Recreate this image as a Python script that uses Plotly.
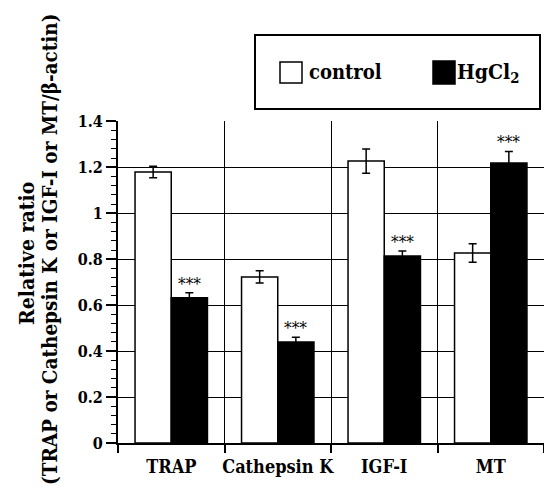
import plotly.graph_objects as go

categories = ["TRAP", "Cathepsin K", "IGF-I", "MT"]
series_names = ["control", "HgCl<sub>2</sub>"]
control_vals = [1.18, 0.723, 1.227, 0.827]
control_err = [0.025, 0.027, 0.053, 0.04]
hg_vals = [0.632, 0.44, 0.814, 1.219]
hg_err = [0.022, 0.02, 0.022, 0.05]
sig_marks = ["***", "***", "***", "***"]
y_ticks = [0, 0.2, 0.4, 0.6, 0.8, 1.0, 1.2, 1.4]

FONT = "DejaVu Serif Condensed, DejaVu Serif"
W, H = 544, 494
L, R, T, B = 118, 0, 121, 51
PW, PH = W - L - R, H - T - B


def px(x):
    return (x - L) / PW


def py(y):
    return (H - B - y) / PH


fig = go.Figure()
fig.add_trace(go.Bar(
    x=categories, y=control_vals, name=series_names[0],
    marker=dict(color="white", line=dict(color="black", width=1.5)),
    error_y=dict(type="data", array=control_err, color="black", thickness=1.5, width=4),
    showlegend=False,
))
fig.add_trace(go.Bar(
    x=categories, y=hg_vals, name=series_names[1],
    marker=dict(color="black", line=dict(color="black", width=1.5)),
    error_y=dict(type="data", array=hg_err, color="black", thickness=1.5, width=4),
    showlegend=False,
))

bargap = 0.32
offset = (1 - bargap) / 4
for i, (v, e, s) in enumerate(zip(hg_vals, hg_err, sig_marks)):
    fig.add_annotation(x=i + offset, y=v + e, xref="x", yref="y", text=s,
                       showarrow=False, yanchor="bottom", yshift=-3,
                       font=dict(family=FONT, size=17, color="black"))

fig.add_annotation(x=px(27), y=py(254), xref="paper", yref="paper",
                   text="<b>Relative ratio</b>", textangle=-90, showarrow=False,
                   xanchor="center", yanchor="middle",
                   font=dict(family=FONT, size=21, color="black"))
fig.add_annotation(x=px(50), y=py(250), xref="paper", yref="paper",
                   text="<b>(TRAP or Cathepsin K or IGF-I or MT/β-actin)</b>",
                   textangle=-90, showarrow=False,
                   xanchor="center", yanchor="middle",
                   font=dict(family=FONT, size=20.5, color="black"))

shapes = [
    dict(type="rect", xref="paper", yref="paper", x0=px(255), x1=px(540),
         y0=py(109), y1=py(35), line=dict(color="black", width=2), fillcolor="white"),
    dict(type="rect", xref="paper", yref="paper", x0=px(280), x1=px(302),
         y0=py(83), y1=py(62), line=dict(color="black", width=1.5), fillcolor="white"),
    dict(type="rect", xref="paper", yref="paper", x0=px(433), x1=px(455),
         y0=py(84), y1=py(61), line=dict(color="black", width=1.5), fillcolor="black"),
]
fig.add_annotation(x=px(307), y=py(72), xref="paper", yref="paper",
                   text="<b>" + series_names[0] + "</b>", showarrow=False,
                   xanchor="left", yanchor="middle",
                   font=dict(family=FONT, size=20, color="black"))
fig.add_annotation(x=px(455), y=py(72), xref="paper", yref="paper",
                   text="<b>" + series_names[1] + "</b>", showarrow=False,
                   xanchor="left", yanchor="middle",
                   font=dict(family=FONT, size=21, color="black"))

fig.update_layout(
    width=W, height=H,
    margin=dict(l=L, r=R, t=T, b=B, pad=0),
    paper_bgcolor="white", plot_bgcolor="white",
    barmode="group", bargap=bargap, bargroupgap=0,
    shapes=shapes,
    xaxis=dict(
        type="category", range=[-0.5, 3.5], tickson="boundaries",
        ticks="outside", ticklen=8, tickwidth=1.5, tickcolor="black",
        showgrid=True, gridcolor="black", gridwidth=1.2,
        showline=True, linecolor="black", linewidth=2,
        tickangle=0,
        tickfont=dict(family=FONT, size=18, color="black", weight="bold"),
        ticklabelstandoff=6,
    ),
    yaxis=dict(
        range=[0, 1.4015], tickvals=y_ticks,
        ticktext=[("%g" % v) for v in y_ticks],
        ticks="outside", ticklen=10, tickwidth=1.5, tickcolor="black",
        showgrid=True, gridcolor="black", gridwidth=1.2,
        showline=True, linecolor="black", linewidth=2, zeroline=False,
        minor=dict(dtick=0.04, tick0=0, ticks="outside", ticklen=5,
                   tickwidth=1, tickcolor="black", showgrid=False),
        tickfont=dict(family=FONT, size=16, color="black", weight="bold"),
    ),
)

fig.write_html("out.html")
